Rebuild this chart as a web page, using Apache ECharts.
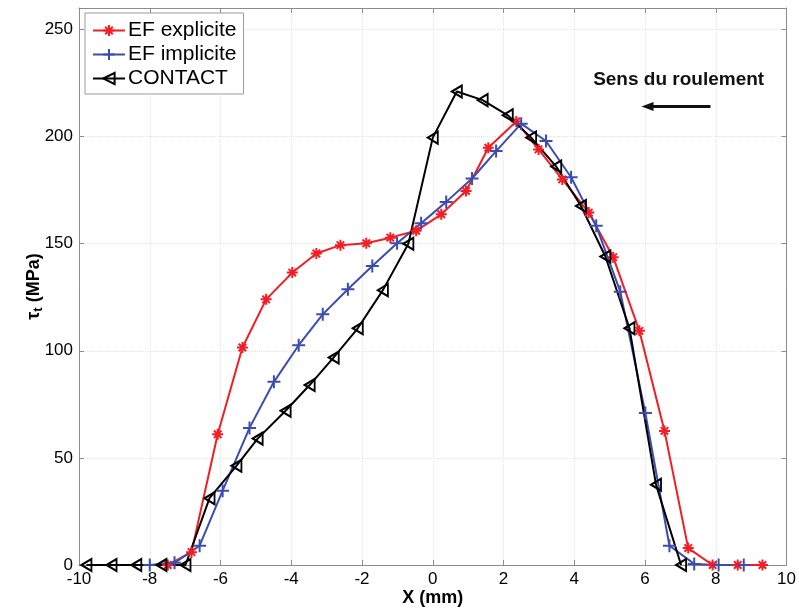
<!DOCTYPE html>
<html>
<head>
<meta charset="utf-8">
<script src="https://cdn.jsdelivr.net/npm/echarts@6/dist/echarts.min.js"></script>
<style>
html,body{margin:0;padding:0;background:#fff;}
#c{width:799px;height:612px;}
</style>
</head>
<body>
<div id="c"></div>
<script>
// ---- data ----
const seriesNames = ['EF explicite', 'EF implicite', 'CONTACT'];

const xExplicite = [-7.49, -6.82, -6.08, -5.38, -4.71, -3.97, -3.29, -2.61, -1.88, -1.20, -0.47, 0.24, 0.94, 1.57, 2.36, 2.99, 3.66, 4.41, 5.10, 5.84, 6.55, 7.22, 7.91, 8.62, 9.32];
const yExplicite = [0, 6, 61, 101.5, 124, 136.5, 145.4, 149.3, 150.2, 152.8, 156, 163.7, 174.6, 194.8, 207, 194, 180, 164.5, 143.7, 109.3, 62.6, 7.9, 0, 0, 0];

const xImplicite = [-8.00, -7.30, -6.59, -5.94, -5.18, -4.49, -3.79, -3.11, -2.40, -1.71, -1.01, -0.33, 0.38, 1.11, 1.79, 2.50, 3.20, 3.91, 4.62, 5.30, 6.01, 6.69, 7.39, 8.08, 8.79];
const yImplicite = [0, 1, 9, 34.7, 64, 85.5, 102.6, 117, 128.7, 139.6, 150.2, 159.5, 169.5, 180.4, 193.2, 206, 197.9, 181, 158.3, 127.6, 70.9, 9, 0.5, 0, 0];

const xContact = [-9.79, -9.08, -8.38, -7.67, -6.99, -6.31, -5.55, -4.95, -4.16, -3.48, -2.80, -2.12, -1.41, -0.69, 0, 0.68, 1.41, 2.12, 2.78, 3.49, 4.19, 4.88, 5.56, 6.31, 7.02];
const yContact = [0, 0, 0, 0, 0, 31.2, 46.3, 59, 72, 84, 96.9, 110.5, 128.3, 150, 199.5, 221, 217, 209.9, 199.5, 186, 167.6, 144, 110.5, 37.5, 0];

const xRange = [-10, 10];
const yRange = [0, 260];
const xStep = 2;
const yStep = 50;

// annotation (data coordinates)
const annotationText = 'Sens du roulement';
const arrowFrom = [7.85, 214];
const arrowTo = [5.9, 214];
const annotationAt = [6.95, 226.5];

// ---- chart ----
const zip = (xs, ys) => xs.map((x, i) => [x, ys[i]]);
const FONT = 'Liberation Sans, Arial, Helvetica, sans-serif';
const axisGray = '#8c8c8c';

const SYM_STAR = 'path://M5,0L5,10M0,5L10,5M1.6,1.6L8.4,8.4M1.6,8.4L8.4,1.6';
const SYM_PLUS = 'path://M5,0L5,10M0,5L10,5';
const SYM_TRI = 'path://M0,5L9,0L9,10Z';

function mkSeries(name, xs, ys, color, symbol, size) {
  return {
    name: name,
    type: 'line',
    data: zip(xs, ys),
    symbol: symbol,
    symbolSize: size,
    showAllSymbol: true,
    lineStyle: { color: color, width: 2 },
    itemStyle: { color: 'rgba(0,0,0,0)', borderColor: color, borderWidth: 2 },
    emphasis: { disabled: true },
    animation: false,
    z: 3
  };
}

const chart = echarts.init(document.getElementById('c'), null, { renderer: 'canvas' });

const baseAxisX = {
  type: 'value', min: xRange[0], max: xRange[1], interval: xStep,
  axisLine: { show: true, onZero: false, lineStyle: { color: axisGray, width: 1 } },
  axisTick: { show: true, inside: true, length: 5, lineStyle: { color: axisGray } },
  splitLine: { show: false }
};
const baseAxisY = {
  type: 'value', min: yRange[0], max: yRange[1], interval: yStep,
  axisLine: { show: true, onZero: false, lineStyle: { color: axisGray, width: 1 } },
  axisTick: { show: true, inside: true, length: 5, lineStyle: { color: axisGray } },
  splitLine: { show: false }
};

chart.setOption({
  backgroundColor: '#ffffff',
  animation: false,
  textStyle: { fontFamily: FONT },
  grid: { left: 79, right: 12, top: 8, bottom: 45, containLabel: false },
  legend: {
    data: seriesNames,
    orient: 'vertical',
    left: 85, top: 13,
    itemWidth: 32, itemHeight: 14, itemGap: 3,
    padding: [7, 7, 5, 7],
    backgroundColor: '#ffffff',
    borderColor: '#9a9a9a', borderWidth: 1,
    selectedMode: false,
    textStyle: { fontSize: 21, color: '#000', fontFamily: FONT, padding: [0, 0, 0, -2] }
  },
  xAxis: [
    Object.assign({}, baseAxisX, {
      position: 'bottom',
      name: 'X (mm)', nameLocation: 'middle', nameGap: 24, nameMoveOverlap: false,
      nameTextStyle: { fontSize: 18, fontWeight: 'bold', color: '#000', fontFamily: FONT },
      axisLabel: { fontSize: 17, color: '#000', margin: 6, fontFamily: FONT },
      splitLine: { show: true, lineStyle: { color: '#e4e4e4', type: 'dotted', width: 1 } }
    }),
    Object.assign({}, baseAxisX, { position: 'top', axisLabel: { show: false } })
  ],
  yAxis: [
    Object.assign({}, baseAxisY, {
      position: 'left',
      name: '{a|τ}{s|t}{a| (MPa)}', nameLocation: 'middle', nameGap: 34, nameMoveOverlap: false,
      nameTextStyle: {
        color: '#000', fontFamily: FONT,
        rich: {
          a: { fontSize: 18, fontWeight: 'bold', color: '#000', fontFamily: FONT },
          s: { fontSize: 13, fontWeight: 'bold', color: '#000', fontFamily: FONT, verticalAlign: 'bottom', padding: [8, 0, 0, 0] }
        }
      },
      axisLabel: { fontSize: 17, color: '#000', margin: 6, showMaxLabel: false, fontFamily: FONT },
      splitLine: { show: true, lineStyle: { color: '#e4e4e4', type: 'dotted', width: 1 } }
    }),
    Object.assign({}, baseAxisY, { position: 'right', axisLabel: { show: false } })
  ],
  series: [
    mkSeries(seriesNames[0], xExplicite, yExplicite, '#f51c24', SYM_STAR, 11),
    mkSeries(seriesNames[1], xImplicite, yImplicite, '#3c4db0', SYM_PLUS, 13),
    mkSeries(seriesNames[2], xContact, yContact, '#000000', SYM_TRI, [10, 12])
  ]
});

// annotation placed from data coordinates
const p1 = chart.convertToPixel({ xAxisIndex: 0, yAxisIndex: 0 }, arrowFrom);
const p2 = chart.convertToPixel({ xAxisIndex: 0, yAxisIndex: 0 }, arrowTo);
const pt = chart.convertToPixel({ xAxisIndex: 0, yAxisIndex: 0 }, annotationAt);
const headLen = 12, headHalf = 4.5;
chart.setOption({
  graphic: [
    {
      type: 'text', x: pt[0], y: pt[1], z: 10,
      style: { text: annotationText, font: 'bold 19px ' + FONT, fill: '#111', align: 'center', verticalAlign: 'middle' }
    },
    {
      type: 'line', z: 10,
      shape: { x1: p1[0], y1: p1[1], x2: p2[0] + headLen - 2, y2: p2[1] },
      style: { stroke: '#111', lineWidth: 3 }
    },
    {
      type: 'polygon', z: 10,
      shape: { points: [[p2[0], p2[1]], [p2[0] + headLen, p2[1] - headHalf], [p2[0] + headLen, p2[1] + headHalf]] },
      style: { fill: '#111' }
    }
  ]
});
</script>
</body>
</html>
